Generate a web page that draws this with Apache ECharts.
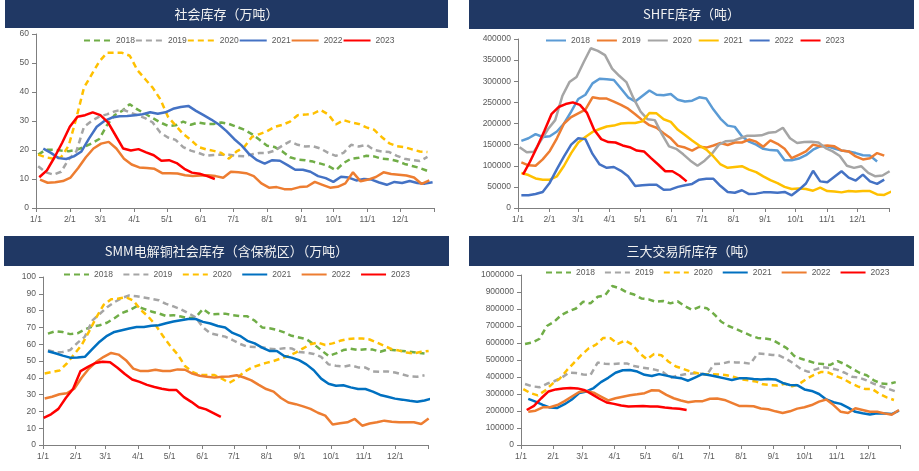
<!DOCTYPE html>
<html><head><meta charset="utf-8">
<script src="https://cdn.jsdelivr.net/npm/echarts@6/dist/echarts.min.js"></script>
<style>html,body{margin:0;padding:0;background:#fff}#c{width:919px;height:471px}</style>
</head><body><div id="c"></div>
<script>
// ---- tick labels ----
const monthLabels = ['1/1','2/1','3/1','4/1','5/1','6/1','7/1','8/1','9/1','10/1','11/1','12/1'];
const monthStartDays = [0,31,59,90,120,151,181,212,243,273,304,334];
const tickDays = monthStartDays.concat([365]);
const years = ['2018','2019','2020','2021','2022','2023'];

// ---- Panel 1: 社会库存（万吨） weekly values ----
const soc2018 = [18.4,20.1,20.1,19.8,19.6,20,21,22.3,23.8,28.5,32,33.5,35.8,34,32.5,31,29.5,28.3,28.5,29.8,28.7,29.5,29,29,29.5,29,28,27,25.5,23.5,21.5,21,19.5,17.5,16.7,16.5,16,15.3,14.5,13,15.5,17,17.3,18,17.8,17,16.8,16.2,15.2,14.5,13.8,12.8];
const soc2019 = [14.4,12.3,11.5,12.5,16.8,19.5,28,30,31.5,32.3,33.3,34,33,32,31,29.5,26,24.3,23.5,21,19.8,19,18,18.3,18.4,18.4,18,17.8,18.5,19,19,19.8,21.5,23,21.8,21.2,21.3,20.5,19,18,19,21.8,21.2,21.8,20,19.5,19.3,18,17,16.5,16.2,17.6];
const soc2020 = [18.4,17.5,17,17.5,21.5,31,41.5,46,50.5,53.5,53.5,53.5,52.5,47.5,44.5,41.5,37.5,31.5,28.5,25.5,23.5,21,20.2,19.7,19,17,19.5,21,24.5,25.5,26.5,28,28.7,29.8,32,32.2,32.5,33.8,32.3,28.8,30.3,29.5,29,27.8,27,24.5,22.3,21.3,21,20.2,19.5,19.3];
const soc2021 = [20.5,19,17.2,16.9,17.8,19.5,24,28,30,31.2,31.6,31.7,32,32.3,33,32.5,33,34.2,34.8,35.2,33.5,32,30.5,28.8,26.5,23.8,21.5,18.5,16.5,15.3,16.5,16.3,14.8,13.2,13.2,12.5,11,10.3,9,10.8,10.5,9.5,10,9.8,8.8,8,9,8.6,9.3,8.6,8.4,8.9];
const soc2022 = [9.8,8.7,8.9,9.3,10.5,13.8,17.5,20.5,22.2,22.8,20.5,17,15,14,13.8,13.5,12,12,11.9,11.3,11,11.2,11.3,11,10.4,12.5,12.3,12,11,8.5,7,7.2,6.5,6.5,7.2,7.4,9,8,7,7.3,8.5,12.3,9.2,9.8,10.7,12.3,11.7,11.5,11.2,10.5,8.3,9.5];
const soc2023 = [10.6,13,17.5,22.5,28,31.5,32,33,32,29.5,25,20.5,19.8,20.3,19.2,18.2,16.3,16.5,15.5,13.5,12.2,11.8,11,10];

// ---- Panel 2: SHFE库存（吨） weekly values ----
const shfe2018 = [159000,165000,175000,168000,170000,181000,200000,228000,258000,268000,295000,306000,305000,303000,283000,262000,252000,265000,278000,268000,267000,270000,256000,252000,254000,262000,259000,233000,211000,195000,192000,170000,157000,150000,140000,137000,136000,113000,113000,117000,125000,138000,146000,146000,141000,136000,134000,130000,125000,124000,110000];
const shfe2019 = [108000,101000,100000,115000,135000,165000,200000,215000,224000,233000,262000,259000,259000,252000,244000,235000,222000,208000,196000,190000,177000,165000,147000,143000,136000,145000,143000,148000,154000,149000,155000,155000,162000,157000,145000,160000,152000,140000,118000,126000,134000,150000,146000,148000,146000,136000,134000,122000,115000,118000,130000,124000];
const shfe2020 = [144000,132000,133000,160000,187000,208000,265000,298000,310000,345000,378000,372000,362000,330000,313000,298000,260000,228000,210000,208000,175000,146000,140000,127000,112000,100000,112000,128000,150000,158000,159000,165000,171000,171000,172000,178000,180000,190000,165000,154000,156000,157000,155000,142000,134000,123000,100000,95000,99000,83000,75000,77000,87000];
const shfe2021 = [83000,78000,70000,67000,67000,75000,100000,130000,155000,168000,180000,187000,193000,195000,200000,201000,201000,205000,225000,224000,210000,204000,185000,173000,160000,148000,138000,122000,103000,95000,97000,99000,91000,85000,75000,66000,59000,50000,45000,46000,45000,41000,48000,40000,39000,37000,40000,39000,40000,40000,32000,31000,39000];
const shfe2022 = [30000,30000,33000,38000,60000,92000,122000,150000,165000,163000,128000,103000,95000,97000,88000,75000,52000,54000,55000,55000,43000,44000,50000,54000,57000,67000,69000,69000,52000,38000,36000,42000,33000,34000,37000,37000,36000,38000,30000,43000,58000,88000,63000,61000,74000,87000,72000,65000,79000,63000,57000,67000];
const shfe2023 = [79000,110000,145000,182000,222000,239000,246000,250000,244000,225000,185000,163000,156000,155000,148000,144000,136000,134000,118000,103000,87000,87000,77000,63000];

// ---- Panel 3: SMM电解铜社会库存（含保税区）（万吨） weekly values ----
const smm2018 = [66.3,67.7,67.2,66,66.5,68.8,70.5,71.3,72.8,75.5,78.5,80.2,82.5,81,79.5,78.3,76.8,77.3,76.5,75.5,76,81,77.8,78,78.2,77.3,76.8,76.6,74,70,69.5,68.5,67,65,64,63,60,56.5,53,54.5,56.5,57.3,56.5,57,56.8,55.5,56.8,56.4,56,55.5,55,54.5];
const smm2019 = [56.4,55.2,55.4,56.5,60.8,64.5,74,78,82,85,87.5,89,88.5,87.8,87,86.2,84,82.5,80.8,78.5,76,70,66.5,65.5,64.5,62.5,60.2,58.5,58.4,58.2,57.3,57,57.6,57.5,55.3,55,54.2,52.5,48,47.2,46.6,47.5,46.2,46.1,43.8,43.6,43.8,43.2,42,40.8,40.6,41.5];
const smm2020 = [42.6,43.5,44.3,48.5,54,59.5,67.5,76,83.5,86.7,87.2,88,86,80.5,76.5,71.5,65,59,54,47,43.5,41.6,41.6,41.6,39.5,37,39.5,43.5,46,47.5,48.9,50,51.5,53,55,57.5,60,61,59.5,60.5,62,63,63.4,63.4,62.8,61,59,57,56.2,55,54.5,55.5,56];
const smm2021 = [55.8,54.6,53.2,52,52.1,52.5,57,61.5,65,67.3,68.3,69.3,70.2,70.3,71,71.3,72.5,73.5,74.3,75,75,73.3,72.3,70.8,70,66.7,65,62,60.5,58,56,56,53,52,50.5,48,44.5,39.5,36.5,35.3,35.6,34.3,33.3,33.3,31.8,29.8,28.7,27.6,27,26.3,25.7,26.5,27.7];
const smm2022 = [27.7,28.7,30.2,30.8,33.5,40,45.5,49.5,52.5,54.8,53.8,50.5,45.5,44,44,44.8,44,44,45,44.8,42.5,41.2,40.6,40.1,40.6,40.8,41.5,40.2,38.5,35.8,33.3,31.8,28,25.3,24.3,23,21.5,19.2,17.5,12.2,12.9,13.5,15.5,11.5,12.8,13.5,14.5,13.9,13.5,13.5,13.5,12.5,15.8];
const smm2023 = [16.2,18.3,21.5,28,33.5,44,46.5,48.8,49.5,49.3,46,42.3,39,37.6,35.8,34.5,33.5,32.7,32.7,28.5,25.7,22.5,21.2,19,16.8];

// ---- Panel 4: 三大交易所库存（吨） weekly values ----
const exch2018 = [594000,603000,625000,700000,725000,765000,786000,803000,843000,833000,872000,880000,935000,922000,898000,885000,862000,857000,842000,847000,833000,845000,817000,794000,813000,805000,770000,725000,700000,683000,664000,645000,630000,626000,620000,595000,570000,525000,507000,494000,480000,476000,471000,494000,475000,450000,425000,410000,380000,362000,359000,370000];
const exch2019 = [359000,345000,340000,360000,375000,395000,425000,423000,415000,412000,485000,478000,476000,480000,480000,465000,456000,450000,442000,428000,395000,408000,416000,421000,422000,412000,476000,478000,488000,486000,485000,478000,538000,535000,530000,526000,505000,478000,445000,430000,445000,458000,452000,442000,425000,402000,396000,380000,360000,345000,330000,315000];
const exch2020 = [329000,305000,292000,320000,360000,390000,440000,485000,530000,568000,590000,630000,628000,595000,615000,590000,540000,505000,535000,528000,490000,462000,448000,432000,422000,416000,416000,415000,410000,400000,387000,380000,374000,357000,352000,350000,360000,345000,360000,390000,412000,430000,426000,405000,390000,365000,345000,330000,330000,300000,280000,265000];
const exch2021 = [271000,255000,236000,220000,218000,240000,268000,305000,315000,335000,370000,395000,425000,440000,441000,432000,413000,406000,417000,408000,398000,393000,378000,398000,418000,410000,402000,392000,382000,392000,392000,388000,386000,388000,386000,365000,353000,352000,327000,318000,300000,268000,252000,242000,220000,195000,187000,180000,186000,186000,182000,202000];
const exch2022 = [196000,202000,222000,222000,235000,258000,285000,312000,318000,308000,285000,262000,275000,284000,293000,298000,305000,322000,320000,295000,275000,262000,252000,258000,258000,272000,273000,265000,248000,230000,230000,228000,215000,210000,198000,188000,198000,214000,222000,235000,255000,268000,235000,195000,188000,216000,206000,196000,196000,186000,178000,206000];
const exch2023 = [206000,230000,275000,315000,327000,333000,336000,333000,322000,298000,272000,250000,242000,232000,226000,228000,229000,226000,226000,220000,216000,213000,206000];

// first-week day of year for each series
const startDays = {
  soc:  [2, 2, 2, 6.7, 3.7, 3],
  shfe: [3.3, 3.3, 1.6, 3.3, 3.3, 4.9],
  smm:  [4.7, 4.7, 1.6, 4.7, 1.6, 0.6],
  exch: [3.9, 3.9, 2.2, 7, 7, 5.5]
};

function weekly(start, vals) { return vals.map((v, i) => [start + 7 * i, v]); }

const GREEN = '#70AD47', GRAY = '#A5A5A5', YEL = '#FFC000', ORG = '#ED7D31', RED = '#FF0000';
const panels = [
  { title: '社会库存（万吨）', banner: [5, 0, 443, 28], grid: { left: 36, top: 34, width: 398, height: 174 },
    yMax: 60, yInt: 10, legend: { left: 83, top: 36, itemWidth: 27, itemGap: 0 },
    data: [soc2018, soc2019, soc2020, soc2021, soc2022, soc2023], starts: startDays.soc,
    colors: [GREEN, GRAY, YEL, '#4472C4', ORG, RED], dashed: [1, 1, 1, 0, 0, 0] },
  { title: 'SHFE库存（吨）', banner: [469, 0, 445, 29], grid: { left: 518, top: 39, width: 371, height: 169 },
    yMax: 400000, yInt: 50000, legend: { left: 545, top: 36, itemWidth: 20, itemGap: 6 },
    data: [shfe2018, shfe2019, shfe2020, shfe2021, shfe2022, shfe2023], starts: startDays.shfe,
    colors: ['#5B9BD5', ORG, GRAY, YEL, '#4472C4', RED], dashed: [0, 0, 0, 0, 0, 0] },
  { title: 'SMM电解铜社会库存（含保税区）（万吨）', banner: [4, 236, 445, 30], grid: { left: 43, top: 277, width: 385, height: 168 },
    yMax: 100, yInt: 10, legend: { left: 63, top: 270, itemWidth: 25, itemGap: 9.5 },
    data: [smm2018, smm2019, smm2020, smm2021, smm2022, smm2023], starts: startDays.smm,
    colors: [GREEN, GRAY, YEL, '#0070C0', ORG, RED], dashed: [1, 1, 1, 0, 0, 0] },
  { title: '三大交易所库存（吨）', banner: [469, 236, 445, 30], grid: { left: 521, top: 275, width: 379, height: 170 },
    yMax: 1000000, yInt: 100000, legend: { left: 545, top: 268, itemWidth: 25, itemGap: 9 },
    data: [exch2018, exch2019, exch2020, exch2021, exch2022, exch2023], starts: startDays.exch,
    colors: [GREEN, GRAY, YEL, '#0070C0', ORG, RED], dashed: [1, 1, 1, 0, 0, 0] }
];

const AX = '#7F7F7F', LBL = '#595959', NUMFONT = 'Liberation Sans', FS = 8.5;
const option = { animation: false, grid: [], xAxis: [], yAxis: [], series: [], legend: [], graphic: [] };

panels.forEach((p, k) => {
  option.grid.push(Object.assign({ containLabel: false }, p.grid));
  option.xAxis.push({
    type: 'value', gridIndex: k, min: 0, max: 365,
    axisLine: { show: true, onZero: false, lineStyle: { color: AX, width: 1 } },
    axisTick: { show: true, customValues: tickDays, length: 4, lineStyle: { color: AX } },
    axisLabel: { customValues: monthStartDays, formatter: v => monthLabels[monthStartDays.indexOf(v)] || '',
      color: LBL, fontSize: FS, fontFamily: NUMFONT, margin: 7 },
    splitLine: { show: false }
  });
  option.yAxis.push({
    type: 'value', gridIndex: k, min: 0, max: p.yMax, interval: p.yInt,
    axisLine: { show: true, lineStyle: { color: AX, width: 1 } },
    axisTick: { show: true, length: 4, lineStyle: { color: AX } },
    axisLabel: { formatter: v => String(v), color: LBL, fontSize: FS, fontFamily: NUMFONT, margin: 7 },
    splitLine: { show: false }
  });
  const names = [];
  years.forEach((y, j) => {
    const name = 'p' + k + '-' + y;
    names.push(name);
    option.series.push({
      type: 'line', name, xAxisIndex: k, yAxisIndex: k,
      data: weekly(p.starts[j], p.data[j]), symbol: 'none', clip: true,
      lineStyle: { color: p.colors[j], width: 2.5, type: p.dashed[j] ? [6, 4] : 'solid' },
      itemStyle: { color: p.colors[j] }
    });
  });
  option.legend.push({
    data: names, left: p.legend.left, top: p.legend.top, itemWidth: p.legend.itemWidth, itemHeight: 10,
    itemGap: p.legend.itemGap, padding: 0, selectedMode: false,
    formatter: n => n.split('-')[1],
    itemStyle: { opacity: 0 },
    textStyle: { fontSize: FS, color: LBL, fontFamily: NUMFONT }
  });
  const b = p.banner;
  option.graphic.push({ type: 'rect', shape: { x: b[0], y: b[1], width: b[2], height: b[3] },
    style: { fill: '#203864' }, silent: true });
  option.graphic.push({ type: 'text', x: b[0] + b[2] / 2, y: b[1] + b[3] / 2,
    style: { text: p.title, fill: '#F2F2F2', font: '13px "Noto Sans CJK SC"', align: 'center', verticalAlign: 'middle' },
    silent: true });
});

const chart = echarts.init(document.getElementById('c'), null, { renderer: 'canvas' });
chart.setOption(option);
</script>
</body></html>
